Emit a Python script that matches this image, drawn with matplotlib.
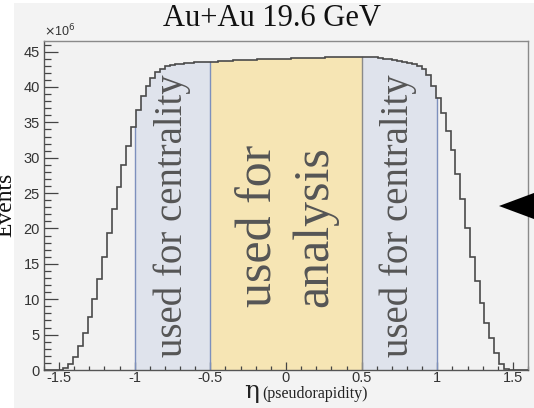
import matplotlib
matplotlib.use('Agg')
import matplotlib.pyplot as plt
from matplotlib.patches import Polygon, Rectangle
from matplotlib.ticker import MultipleLocator
import numpy as np

# Histogram: 100 bins over eta in [-1.6, 1.6], events in units of 1e6
eta_lo, eta_hi = -1.6, 1.6
events = [
    0.0, 0.0, 0.0, 0.0, 0.3, 0.8, 1.9, 3.4, 5.2, 7.5,
    10.0, 12.8, 16.0, 19.4, 22.7, 25.9, 29.0, 31.7, 34.4, 36.8,
    38.7, 40.1, 41.3, 42.1, 42.6, 42.9, 43.1, 43.2, 43.3, 43.4,
    43.45, 43.5, 43.5, 43.55, 43.6, 43.6, 43.65, 43.7, 43.7, 43.75,
    43.8, 43.8, 43.85, 43.85, 43.9, 43.9, 43.95, 43.95, 44.0, 44.0,
    44.0, 44.05, 44.05, 44.1, 44.1, 44.1, 44.15, 44.15, 44.2, 44.2,
    44.2, 44.25, 44.25, 44.3, 44.3, 44.3, 44.3, 44.25, 44.2, 44.1,
    44.0, 43.9, 43.8, 43.7, 43.6, 43.45, 43.3, 43.0, 42.6, 41.7,
    40.2, 38.5, 36.3, 33.8, 31.1, 27.7, 24.1, 20.0, 16.0, 12.6,
    9.4, 6.7, 4.5, 2.4, 0.85, 0.2, 0.0, 0.0, 0.0, 0.0,
]

# shaded eta ranges: (low, high, colour, label)
regions = [
    (-1.0, -0.5, '#dfe3ec', 'used for centrality'),
    (-0.5, 0.5, '#f6e5b4', 'used for\nanalysis'),
    (0.5, 1.0, '#dfe3ec', 'used for centrality'),
]
region_lines = [(-1.0, '#7d90bd'), (-0.5, '#7d90bd'), (0.5, '#8a8a8a'), (1.0, '#7d90bd')]

title = 'Au+Au 19.6 GeV'
y_max = 46.5

W, H = 534, 408
fig = plt.figure(figsize=(W / 100, H / 100), dpi=100, facecolor='white')
fig.patches.append(Rectangle((14 / W, 0), 1, 1 - 3 / H, transform=fig.transFigure,
                             facecolor='#f3f3f3', edgecolor='none', zorder=-5))
ax = fig.add_axes([44 / W, 1 - 370 / H, (528 - 44) / W, (370 - 41) / H])
ax.set_facecolor('#f2f2f2')

vals = np.array(events)
edges = np.linspace(eta_lo, eta_hi, len(vals) + 1)


def step_xy(lo, hi):
    """Piecewise-constant outline of the histogram between lo and hi."""
    inner = edges[(edges > lo) & (edges < hi)]
    xs = np.concatenate([[lo], inner, [hi]])
    idx = np.clip(np.searchsorted(edges, xs[:-1], side='right') - 1, 0, len(vals) - 1)
    ys = np.append(vals[idx], vals[idx[-1]])
    return xs, ys


for lo, hi, col, lab in regions:
    xs, ys = step_xy(lo, hi)
    ax.fill_between(xs, ys, step='post', color=col, linewidth=0, zorder=1)

for x0, col in region_lines:
    i = min(np.searchsorted(edges, x0, side='right') - 1, len(vals) - 1)
    ax.plot([x0, x0], [0, vals[i]], color=col, lw=1.0, zorder=2)

ax.stairs(vals, edges, color='#4a4a4a', lw=1.2, zorder=3)

# region labels
txt_kw = dict(rotation=90, ha='center', va='center', color='#555555',
              family='Liberation Serif', zorder=4)
ax.text(-0.75, 21.8, regions[0][3], fontsize=28, **txt_kw)
ax.text(0.745, 21.8, regions[2][3], fontsize=28, **txt_kw)
ax.text(-0.18, 20.4, 'used for', fontsize=36, **txt_kw)
ax.text(0.19, 20.3, 'analysis', fontsize=36, **txt_kw)

ax.set_xlim(eta_lo, eta_hi)
ax.set_ylim(0, y_max)
ax.xaxis.set_minor_locator(MultipleLocator(0.1))
ax.yaxis.set_major_locator(MultipleLocator(5))
ax.yaxis.set_minor_locator(MultipleLocator(1))
ax.set_xticks([-1.5, -1, -0.5, 0, 0.5, 1, 1.5])
ax.set_xticklabels(['-1.5', '-1', '-0.5', '0', '0.5', '1', '1.5'])
ax.tick_params(which='both', direction='in', colors='#444444', labelcolor='#333333',
               labelsize=10.5, width=0.9)
ax.tick_params(axis='y', which='major', length=10, pad=3)
ax.tick_params(axis='y', which='minor', length=5)
ax.tick_params(axis='x', which='major', length=6, pad=1)
ax.tick_params(axis='x', which='minor', length=3)
for lab in ax.get_xticklabels() + ax.get_yticklabels():
    lab.set_family('Liberation Sans')
for side in ('left', 'bottom'):
    ax.spines[side].set_color('#555555')
for side in ('top', 'right'):
    ax.spines[side].set_color('#8a8a8a')
for sp in ax.spines.values():
    sp.set_linewidth(1.0)

# texts outside the frame
fig.text(272 / W, 1 - 18 / H, title, ha='center', va='center', fontsize=22,
         family='Liberation Serif', color='#111111')
fig.text(44 / W, 1 - 31 / H, r'$\times$10$^{6}$', ha='left', va='center', fontsize=9,
         family='Liberation Sans', color='#333333')
fig.text(6 / W, 1 - 205 / H, 'Events', rotation=90, ha='center', va='center',
         fontsize=17, family='Liberation Serif', color='#111111')
fig.text(252 / W, 1 - 398 / H, '\u03b7', ha='center', va='baseline', fontsize=18,
         family='DejaVu Serif', color='#222222')
fig.text(262 / W, 1 - 398 / H, '(pseudorapidity)', ha='left', va='baseline', fontsize=11.5,
         family='Liberation Serif', color='#222222')

# pointer arrow at the right edge
fig.patches.append(Polygon([(499 / W, 1 - 206 / H), (1.02, 1 - 189 / H), (1.02, 1 - 223 / H)],
                           closed=True, transform=fig.transFigure, facecolor='black',
                           edgecolor='none', zorder=10))

fig.savefig('out.png', dpi=100, facecolor=fig.get_facecolor())
